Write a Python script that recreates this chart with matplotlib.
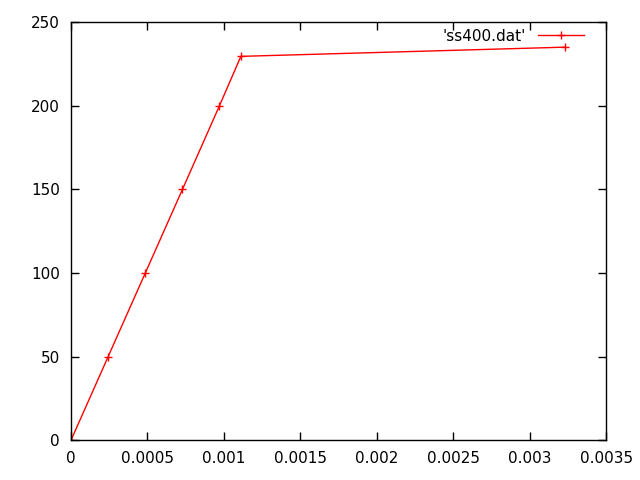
import matplotlib
matplotlib.use("Agg")
import matplotlib.pyplot as plt

# ============================================================
# DATOS
# ============================================================

deformacion = [0.0, 0.000243, 0.000486, 0.000729, 0.000971, 0.001111, 0.003230]
esfuerzo = [0.0, 50.0, 100.0, 150.0, 200.0, 229.5, 235.0]

x_ticks = [0, 0.0005, 0.001, 0.0015, 0.002, 0.0025, 0.003, 0.0035]
x_labels = ["0", "0.0005", "0.001", "0.0015", "0.002", "0.0025", "0.003", "0.0035"]
y_ticks = [0, 50, 100, 150, 200, 250]

# ============================================================
# GRÁFICA
# ============================================================

fig = plt.figure(figsize=(6.4, 4.8), dpi=100)
ax = fig.add_axes([0.111, 0.083, 0.836, 0.871])

ax.plot(
    deformacion,
    esfuerzo,
    color="red",
    linewidth=1,
    marker="+",
    markersize=6,
    markeredgewidth=1,
    label="'ss400.dat'"
)

ax.set_xlim(0, 0.0035)
ax.set_ylim(0, 250)
ax.set_xticks(x_ticks)
ax.set_xticklabels(x_labels)
ax.set_yticks(y_ticks)

ax.tick_params(
    direction="in",
    length=6,
    width=1,
    top=True,
    right=True,
    labelsize=11,
    pad=8
)

for lado in ax.spines.values():
    lado.set_linewidth(1)

ax.legend(
    loc="upper right",
    bbox_to_anchor=(0.978, 1.01),
    frameon=False,
    fontsize=11,
    markerfirst=False,
    handlelength=3.0,
    borderaxespad=0.3,
    handletextpad=0.8
)

plt.savefig("out.png", dpi=100)
